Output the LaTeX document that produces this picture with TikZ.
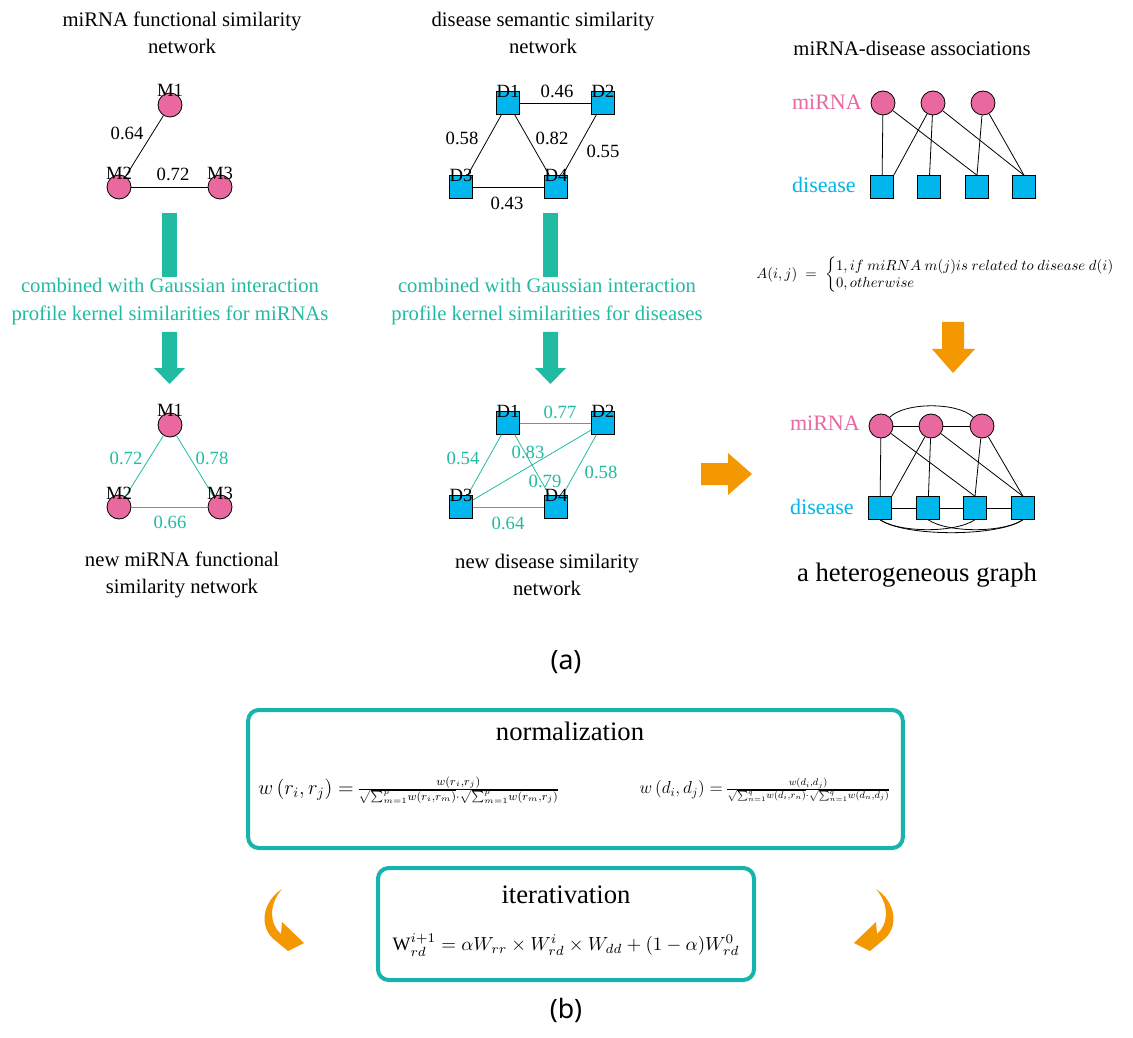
\documentclass[tikz,border=0pt]{standalone}
\usepackage{fix-cm}
\usepackage{amsmath}
\usepackage{fontspec}
\setmainfont{Liberation Serif}
\newfontfamily\sansf{Noto Sans}
\definecolor{mirpink}{RGB}{233,104,160}
\definecolor{disblue}{RGB}{0,182,236}
\definecolor{tealc}{RGB}{33,187,163}
\definecolor{boxteal}{RGB}{22,180,172}
\definecolor{orangec}{RGB}{243,152,0}
\tikzset{
  mir/.style={circle,draw=black,line width=0.6pt,fill=mirpink,minimum size=18pt,inner sep=0pt},
  dis/.style={rectangle,draw=black,line width=0.6pt,fill=disblue,minimum size=17pt,inner sep=0pt},
  nid/.style={font=\fontsize{14}{14}\selectfont,inner sep=0pt},
  wlab/.style={font=\fontsize{14}{14}\selectfont,inner sep=0pt},
  tlab/.style={wlab,text=tealc},
  edge/.style={line width=0.6pt,draw=black},
  tedge/.style={line width=0.6pt,draw=tealc},
  ttl/.style={font=\fontsize{15.5}{20}\selectfont,align=center,inner sep=0pt},
  comb/.style={font=\fontsize{15.5}{21}\selectfont,align=center,inner sep=0pt,text=tealc},
  kind/.style={font=\fontsize{16.5}{18}\selectfont,inner sep=0pt,anchor=east},
  bigttl/.style={font=\fontsize{20}{24}\selectfont,inner sep=0pt},
  panel/.style={font=\sansf\fontsize{20}{24}\selectfont,inner sep=0pt},
  fbox/.style={draw=boxteal,line width=3pt,rounded corners=8pt,inner sep=0pt},
}
\newcommand{\normfrac}[2]{\hbox{\fontsize{14.6}{16}\selectfont$#1=$\,\raisebox{2pt}{\fontsize{8.2}{9}\selectfont$#2$}}}
\newcommand{\tsum}[2]{\sum\nolimits_{#1}^{#2}\!}
\begin{document}
\begin{tikzpicture}[x=0.75pt,y=-0.75pt]
\useasboundingbox (0,0) rectangle (1133,1038);
\fill[white] (0,0) rectangle (1133,1038);

% ---------- top-left network ----------
\node[ttl] (t1) at (182,33) {miRNA functional similarity\\network};
\node[mir] (m1) at (170,105) {};
\node[mir] (m2) at (119,187) {};
\node[mir] (m3) at (220,187) {};
\draw[edge] (m1) -- (m2);
\draw[edge] (m2) -- (m3);
\node[nid] (m1l) at (170,90) {M1};
\node[nid] (m2l) at (119,173) {M2};
\node[nid] (m3l) at (220,173) {M3};
\node[wlab] (e1) at (127,133) {0.64};
\node[wlab] (e2) at (173,174) {0.72};

% ---------- top-middle network ----------
\node[ttl] (t2) at (543,33) {disease semantic similarity\\network};
\node[dis] (d1) at (508,103) {};
\node[dis] (d2) at (603,103) {};
\node[dis] (d3) at (461,187) {};
\node[dis] (d4) at (556,187) {};
\draw[edge] (d1) -- (d2);
\draw[edge] (d1) -- (d3);
\draw[edge] (d1) -- (d4);
\draw[edge] (d2) -- (d4);
\draw[edge] (d3) -- (d4);
\node[nid] (d1l) at (508,91) {D1};
\node[nid] (d2l) at (603,91) {D2};
\node[nid] (d3l) at (461,175) {D3};
\node[nid] (d4l) at (556,175) {D4};
\node[wlab] (f1) at (557,91) {0.46};
\node[wlab] (f2) at (462,138) {0.58};
\node[wlab] (f3) at (552,138) {0.82};
\node[wlab] (f4) at (603,151) {0.55};
\node[wlab] (f5) at (507,203) {0.43};

% ---------- teal arrows ----------
\fill[tealc] (162,213) rectangle (177,277);
\fill[tealc] (162,332) -- (177,332) -- (177,368) -- (185,368) -- (169.5,384) -- (154,368) -- (162,368) -- cycle;
\node[comb] (c1) at (170,302) {combined with Gaussian interaction\\profile kernel similarities for miRNAs};
\fill[tealc] (543,213) rectangle (558,277);
\fill[tealc] (543,332) -- (558,332) -- (558,368) -- (566,368) -- (550.5,384) -- (535,368) -- (543,368) -- cycle;
\node[comb] (c2) at (547,302) {combined with Gaussian interaction\\profile kernel similarities for diseases};

% ---------- bottom-left network ----------
\node[mir] (n1) at (170,425) {};
\node[mir] (n2) at (119,507) {};
\node[mir] (n3) at (220,507) {};
\draw[tedge] (n1) -- (n2);
\draw[tedge] (n1) -- (n3);
\draw[tedge] (n2) -- (n3);
\node[nid] (n1l) at (170,410) {M1};
\node[nid] (n2l) at (119,493) {M2};
\node[nid] (n3l) at (220,493) {M3};
\node[tlab] (g1l) at (126,458) {0.72};
\node[tlab] (g2l) at (212,458) {0.78};
\node[tlab] (g3l) at (170,522) {0.66};
\node[ttl] (t4) at (182,575) {new miRNA functional\\similarity network};

% ---------- bottom-middle network ----------
\node[dis] (k1) at (508,423) {};
\node[dis] (k2) at (603,423) {};
\node[dis] (k3) at (461,507) {};
\node[dis] (k4) at (556,507) {};
\draw[tedge] (k1) -- (k2);
\draw[tedge] (k1) -- (k3);
\draw[tedge] (k1) -- (k4);
\draw[tedge] (k2) -- (k3);
\draw[tedge] (k2) -- (k4);
\draw[tedge] (k3) -- (k4);
\node[nid] (k1l) at (508,411) {D1};
\node[nid] (k2l) at (603,411) {D2};
\node[nid] (k3l) at (461,495) {D3};
\node[nid] (k4l) at (556,495) {D4};
\node[tlab] (h1l) at (560,412) {0.77};
\node[tlab] (h2l) at (463,458) {0.54};
\node[tlab] (h3l) at (528,452) {0.83};
\node[tlab] (h4l) at (545,481) {0.79};
\node[tlab] (h5l) at (601,472) {0.58};
\node[tlab] (h6l) at (508,523) {0.64};
\node[ttl] (t5) at (547,575) {new disease similarity\\network};

% ---------- top-right associations ----------
\node[ttl] (t3) at (912,48) {miRNA-disease associations};
\node[kind,text=mirpink] (mk) at (862,102) {miRNA};
\node[kind,text=disblue] (dk) at (856,185) {disease};
\node[mir] (a1) at (883,103) {};
\node[mir] (a2) at (933,103) {};
\node[mir] (a3) at (983,103) {};
\node[dis] (b1) at (882,187) {};
\node[dis] (b2) at (929,187) {};
\node[dis] (b3) at (977,187) {};
\node[dis] (b4) at (1024,187) {};
\draw[edge] (a1) -- (b1);
\draw[edge] (a1) -- (b3.north);
\draw[edge] (a2) -- (b1.north east);
\draw[edge] (a2) -- (b2);
\draw[edge] (a2) -- (b4.north);
\draw[edge] (a3) -- (b3.north);
\draw[edge] (a3) -- (b4.north);
\node[inner sep=0pt] (aform) at (943,275) {\resizebox{280pt}{!}{$A(i,j)\;=\;\begin{cases}1, if\ miRNA\ m(j)is\ related\ to\ disease\ d(i)\\[-3pt] 0, otherwise\end{cases}$}};

% ---------- orange arrows ----------
\fill[orangec] (942,322) -- (964,322) -- (964,349) -- (975,349) -- (953,373) -- (932,349) -- (942,349) -- cycle;
\fill[orangec] (701,463) -- (728,463) -- (728,453) -- (752,474) -- (728,495) -- (728,485) -- (701,485) -- cycle;

% ---------- heterogeneous graph ----------
\node[kind,text=mirpink] (mk2) at (860,423) {miRNA};
\node[kind,text=disblue] (dk2) at (854,507) {disease};
\node[mir] (p1) at (881,426) {};
\node[mir] (p2) at (931,426) {};
\node[mir] (p3) at (982,426) {};
\node[dis] (q1) at (880,508) {};
\node[dis] (q2) at (928,508) {};
\node[dis] (q3) at (975,508) {};
\node[dis] (q4) at (1023,508) {};
\draw[edge] (p1) -- (p2);
\draw[edge] (p2) -- (p3);
\draw[edge] (p1.north east) .. controls (905,402) and (958,402) .. (p3.north west);
\draw[edge] (p1) -- (q1);
\draw[edge] (p1) -- (q3.north);
\draw[edge] (p2) -- (q1.north east);
\draw[edge] (p2) -- (q2);
\draw[edge] (p2) -- (q4.north);
\draw[edge] (p3) -- (q3.north);
\draw[edge] (p3) -- (q4.north);
\draw[edge] (q1) -- (q2);
\draw[edge] (q2) -- (q3);
\draw[edge] (q3) -- (q4);
\draw[edge] (q1.south) .. controls (900,533) and (955,533) .. (q3.south);
\draw[edge] (q2.south) .. controls (948,533) and (1003,533) .. (q4.south);
\draw[edge] (q1.south) .. controls (905,537) and (998,537) .. (q4.south);
\node[bigttl] (t6) at (917,575) {a heterogeneous graph};

\node[panel] (pa) at (566,662) {(a)};

% ---------- part (b) ----------
\node[fbox,minimum width=491pt,minimum height=103.5pt] (normbox) at (575.5,779) {};
\node[bigttl] (normt) at (570,731) {normalization};
\node[inner sep=0pt] (nf1) at (409,790) {\resizebox{226pt}{!}{\normfrac{w\left(r_i,r_j\right)}{\frac{\textstyle w(r_i{,}r_j)}{\textstyle\sqrt{\tsum{m=1}{p}w(r_i{,}r_m)}{\cdot}\sqrt{\tsum{m=1}{p}w(r_m{,}r_j)}}}}};
\node[inner sep=0pt] (nf2) at (765,790) {\resizebox{188pt}{!}{\normfrac{w\left(d_i,d_j\right)}{\frac{\textstyle w(d_i{,}d_j)}{\textstyle\sqrt{\tsum{n=1}{q}w(d_i{,}r_n)}{\cdot}\sqrt{\tsum{n=1}{q}w(d_n{,}d_j)}}}}};

\node[fbox,minimum width=282pt,minimum height=84pt] (iterbox) at (566,924) {};
\node[bigttl] (itert) at (566,895) {iterativation};
\node[inner sep=0pt] (itf) at (566,945) {\resizebox{260pt}{!}{$\mathrm{W}_{rd}^{i+1}=\alpha W_{rr}\times W_{rd}^{i}\times W_{dd}+(1-\alpha)W_{rd}^{0}$}};

% curved orange arrows
\fill[orangec] (282,889) .. controls (262,902) and (258,928) .. (276,941) -- (288,951) -- (304,943) -- (282,922) -- (281,934) .. controls (270,925) and (268,905) .. (282,889) -- cycle;
\begin{scope}[shift={(1158,0)},xscale=-1]
\fill[orangec] (282,889) .. controls (262,902) and (258,928) .. (276,941) -- (288,951) -- (304,943) -- (282,922) -- (281,934) .. controls (270,925) and (268,905) .. (282,889) -- cycle;
\end{scope}

\node[panel] (pb) at (566,1010) {(b)};
\end{tikzpicture}
\end{document}
